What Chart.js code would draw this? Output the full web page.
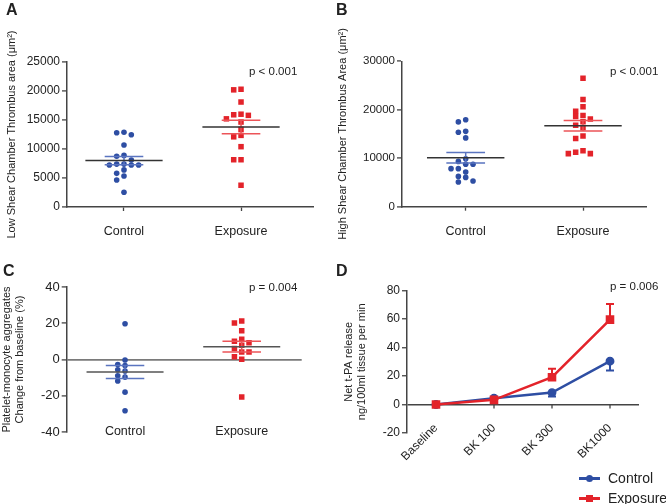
<!DOCTYPE html>
<html>
<head>
<meta charset="utf-8">
<script src="https://cdn.jsdelivr.net/npm/chart.js@4.4.1/dist/chart.umd.min.js"></script>
<style>
body { margin: 0; background: #fff; font-family: "Liberation Sans", Arial, sans-serif; color: #222; }
#wrap { position: relative; width: 666px; height: 504px; overflow: hidden; }
canvas { position: absolute; }
.lab { position: absolute; font-weight: bold; font-size: 16px; line-height: 1; }
.pv { position: absolute; font-size: 11.5px; line-height: 1; white-space: nowrap; }
.leg { position: absolute; left: 579px; font-size: 14px; line-height: 1; white-space: nowrap; }
.leg .ln { position: absolute; left: 0; top: 6px; width: 21px; height: 2.5px; }
.leg .mk { position: absolute; left: 7px; top: 4px; width: 7px; height: 7px; }
.leg .tx { position: absolute; left: 29px; top: 0; }
</style>
</head>
<body>
<div id="wrap">
  <canvas id="cA" width="333" height="252" style="left:0;top:0"></canvas>
  <canvas id="cB" width="333" height="252" style="left:333px;top:0"></canvas>
  <canvas id="cC" width="333" height="252" style="left:0;top:252px"></canvas>
  <canvas id="cD" width="333" height="252" style="left:333px;top:252px"></canvas>
  <div class="lab" style="left:6px;top:2px">A</div>
  <div class="lab" style="left:336px;top:2px">B</div>
  <div class="lab" style="left:3px;top:263px">C</div>
  <div class="lab" style="left:336px;top:263px">D</div>
  <div class="pv" style="left:249px;top:66px">p &lt; 0.001</div>
  <div class="pv" style="left:610px;top:66px">p &lt; 0.001</div>
  <div class="pv" style="left:249px;top:282px">p = 0.004</div>
  <div class="pv" style="left:610px;top:281px">p = 0.006</div>
  <div class="leg" style="top:471px"><span class="ln" style="background:#2e4ea3"></span><span class="mk" style="background:#2e4ea3;border-radius:50%"></span><span class="tx">Control</span></div>
  <div class="leg" style="top:491px"><span class="ln" style="background:#e3232a"></span><span class="mk" style="background:#e3232a"></span><span class="tx">Exposure</span></div>
</div>
<script>
// groups
var groups = ["Control", "Exposure"];

// A: low shear thrombus area (um2)
var ctrlA = [12900, 12800, 12450, 10700, 8900, 8750, 8100, 7400, 7400, 7250, 7250, 7250, 6400, 5800, 5350, 4650, 2550];
var expoA = [20300, 20200, 18100, 16000, 15900, 15800, 15200, 14650, 13400, 12350, 12100, 10400, 8150, 8150, 3750];
var meanA = [8000, 13800];
var semA = [700, 1150];

// B: high shear thrombus area (um2)
var ctrlB = [17950, 17500, 15550, 15350, 14200, 9900, 9350, 8750, 8750, 7850, 7850, 7150, 6250, 6050, 5300, 5100];
var expoB = [26500, 22100, 20600, 19700, 18800, 18600, 18100, 17550, 16800, 16300, 14600, 14050, 11550, 11250, 10950, 10950];
var meanB = [10100, 16700];
var semB = [1100, 1100];

// C: platelet-monocyte aggregates, change from baseline (%)
var ctrlC = [19.7, -0.3, -2.8, -3.3, -5.7, -6.4, -9.0, -9.7, -11.9, -18, -28.3];
var expoC = [21.3, 20.1, 15.8, 11.2, 10.1, 9.2, 7.9, 6.1, 4.2, 4.2, 1.5, 0.2, -20.7];
var meanC = [-6.9, 7.1];
var semC = [3.6, 3.0];

// D: net t-PA release
var stepsD = ["Baseline", "BK 100", "BK 300", "BK1000"];
var ctrlD = [0, 4.5, 8.4, 30.5];
var ctrlDsem = [0, 0.8, 2.8, 6.6];
var expoD = [0, 3.3, 19.2, 59.7];
var expoDsem = [0, 0.8, 6, 11];

var BLUE = "#2e4ea3", RED = "#e3232a", BLUE2 = "#5a74c0", RED2 = "#ec5458";
var AXIS = "#444";

Chart.defaults.font.family = '"Liberation Sans", Arial, sans-serif';
Chart.defaults.color = "#222";
Chart.defaults.animation = false;

// simple beeswarm: spread points sideways when they would overlap
function swarm(values, center, step, thr) {
  var placed = [], xs = [];
  var order = values.map(function (v, i) { return i; }).sort(function (a, b) { return values[b] - values[a]; });
  order.forEach(function (i) {
    for (var k = 0; ; k++) {
      var c = k === 0 ? 0 : (k % 2 ? -Math.ceil(k / 2) : k / 2);
      var hit = placed.some(function (p) { return p.c === c && Math.abs(p.v - values[i]) < thr; });
      if (!hit) { placed.push({ c: c, v: values[i] }); xs[i] = center + c * step; break; }
    }
  });
  return values.map(function (v, i) { return { x: xs[i], y: v }; });
}

Chart.register({
  id: "meanSem",
  afterDatasetsDraw: function (chart, args, o) {
    if (!o.mean) return;
    var ctx = chart.ctx, x = chart.scales.x, y = chart.scales.y;
    ctx.save();
    ctx.lineWidth = 1.5;
    o.mean.forEach(function (m, i) {
      var c = i + 1;
      var lo = y.getPixelForValue(m - o.sem[i]), hi = y.getPixelForValue(m + o.sem[i]);
      var l = x.getPixelForValue(c - o.semHalf), r = x.getPixelForValue(c + o.semHalf), cx = x.getPixelForValue(c);
      ctx.strokeStyle = o.semColors[i];
      ctx.beginPath();
      ctx.moveTo(l, lo); ctx.lineTo(r, lo);
      ctx.moveTo(l, hi); ctx.lineTo(r, hi);
      ctx.moveTo(cx, lo); ctx.lineTo(cx, hi);
      ctx.stroke();
      var my = y.getPixelForValue(m);
      ctx.strokeStyle = o.meanColor;
      ctx.beginPath();
      ctx.moveTo(x.getPixelForValue(c - o.meanHalf), my);
      ctx.lineTo(x.getPixelForValue(c + o.meanHalf), my);
      ctx.stroke();
    });
    ctx.restore();
  }
});

Chart.register({
  id: "errBars",
  beforeDatasetsDraw: function (chart, args, o) {
    if (!o.sets) return;
    var ctx = chart.ctx, x = chart.scales.x, y = chart.scales.y;
    ctx.save();
    // tick marks under the zero line
    var y0 = y.getPixelForValue(0);
    ctx.strokeStyle = AXIS; ctx.lineWidth = 1.3;
    ctx.beginPath();
    x.ticks.forEach(function (t, i) {
      var px = x.getPixelForTick(i);
      ctx.moveTo(px, y0); ctx.lineTo(px, y0 + 4);
    });
    ctx.stroke();
    o.sets.forEach(function (s) {
      ctx.strokeStyle = s.color; ctx.lineWidth = 2;
      s.values.forEach(function (v, i) {
        if (!s.sem[i]) return;
        var px = x.getPixelForValue(i), p1 = y.getPixelForValue(v), p2 = y.getPixelForValue(v + s.dir * s.sem[i]);
        ctx.beginPath();
        ctx.moveTo(px, p1); ctx.lineTo(px, p2);
        ctx.moveTo(px - 4, p2); ctx.lineTo(px + 4, p2);
        ctx.stroke();
      });
    });
    ctx.restore();
  }
});

function plain(v) { return String(v); }

function dotPanel(id, p) {
  var thr = (p.max - p.min) * 4.9 / 145;
  return new Chart(document.getElementById(id), {
    type: "scatter",
    data: {
      datasets: [
        { data: swarm(p.ctrl, 1, 0.0625, thr), pointStyle: "circle", pointRadius: 2.8, pointHoverRadius: 2.8,
          backgroundColor: BLUE, borderColor: BLUE, borderWidth: 0 },
        { data: swarm(p.expo, 2, 0.0625, thr), pointStyle: "rect", pointRadius: 3.9, pointHoverRadius: 3.9,
          backgroundColor: RED, borderColor: RED, borderWidth: 0 }
      ]
    },
    options: {
      responsive: false,
      layout: { padding: { left: 0, top: p.top, right: p.right, bottom: 0 } },
      plugins: {
        legend: { display: false }, tooltip: { enabled: false },
        meanSem: { mean: p.mean, sem: p.sem, semColors: [BLUE2, RED2], meanColor: p.meanColor,
          meanHalf: 0.33, semHalf: 0.165 }
      },
      scales: {
        x: {
          type: "linear", min: p.xmin, max: p.xmax,
          afterBuildTicks: function (s) { s.ticks = [{ value: 1 }, { value: 2 }]; },
          afterFit: function (s) { s.height = p.xh; },
          ticks: { callback: function (v) { return groups[v - 1]; }, font: { size: 12.5 }, padding: p.xpad,
            mirror: !!p.xmirror, color: "#222" },
          grid: { drawOnChartArea: false, drawTicks: p.xticks, tickLength: 4, tickColor: AXIS, tickWidth: 1.3 },
          border: { display: p.xborder, color: AXIS, width: 1.5 }
        },
        y: {
          min: p.min, max: p.max,
          afterFit: function (s) { s.width = p.yw; },
          ticks: { stepSize: p.step, callback: plain, font: { size: p.tickFont }, padding: 2, color: "#222" },
          grid: {
            drawOnChartArea: !!p.zeroLine,
            color: function (c) { return p.zeroLine && c.tick && c.tick.value === 0 ? p.zeroLine : "rgba(0,0,0,0)"; },
            lineWidth: 1.8,
            tickLength: 5, tickColor: AXIS, tickWidth: 1.3
          },
          border: { color: AXIS, width: 1.5 },
          title: { display: true, text: p.title, font: { size: 11 }, padding: { top: p.tpad, bottom: 0 }, color: "#222" }
        }
      }
    }
  });
}

dotPanel("cA", { ctrl: ctrlA, expo: expoA, mean: meanA, sem: semA, min: 0, max: 25000, step: 5000,
  top: 62, right: 20, yw: 67, xh: 45, xmin: 0.513, xmax: 2.615, xpad: 13, xticks: true, xborder: true,
  tickFont: 12, meanColor: "#333", title: "Low Shear Chamber Thrombus area (\u03bcm\u00b2)", tpad: 5 });

dotPanel("cB", { ctrl: ctrlB, expo: expoB, mean: meanB, sem: semB, min: 0, max: 30000, step: 10000,
  top: 61.3, right: 20, yw: 69, xh: 45.3, xmin: 0.457, xmax: 2.537, xpad: 13, xticks: true, xborder: true,
  tickFont: 11.5, meanColor: "#333", title: "High Shear Chamber Thrombus Area (\u03bcm\u00b2)", tpad: 3 });

dotPanel("cC", { ctrl: ctrlC, expo: expoC, mean: meanC, sem: semC, min: -40, max: 40, step: 20,
  top: 35, right: 31.3, yw: 66.7, xh: 72, xmin: 0.5, xmax: 2.514, xpad: -7.5, xmirror: true, xticks: false, xborder: false,
  tickFont: 13, meanColor: "#555", zeroLine: "#7a7a7a",
  title: ["Platelet-monocyte aggregates", "Change from baseline (%)"], tpad: 0 });

new Chart(document.getElementById("cD"), {
  type: "line",
  data: {
    labels: stepsD,
    datasets: [
      { label: "Exposure", data: expoD, borderColor: RED, backgroundColor: RED, borderWidth: 2.5,
        pointStyle: "rect", pointRadius: 4.3, pointHoverRadius: 4.3, tension: 0 },
      { label: "Control", data: ctrlD, borderColor: BLUE, backgroundColor: BLUE, borderWidth: 2.5,
        pointStyle: "circle", pointRadius: 3.2, pointHoverRadius: 3.2, tension: 0 }
    ]
  },
  options: {
    responsive: false,
    layout: { padding: { left: 0, top: 38.7, right: 27, bottom: 71 } },
    plugins: {
      legend: { display: false }, tooltip: { enabled: false },
      errBars: { sets: [
        { values: ctrlD, sem: ctrlDsem, dir: -1, color: BLUE },
        { values: expoD, sem: expoDsem, dir: 1, color: RED }
      ] }
    },
    scales: {
      x: {
        position: { y: -20 },
        offset: true,
        ticks: { minRotation: 45, maxRotation: 45, font: { size: 12 }, padding: -12, color: "#222" },
        grid: { display: false, drawTicks: false },
        border: { display: false }
      },
      y: {
        min: -20, max: 80,
        afterFit: function (s) { s.width = 74; },
        ticks: { stepSize: 20, font: { size: 12 }, padding: 2, color: "#222" },
        grid: {
          color: function (c) { return c.tick && c.tick.value === 0 ? AXIS : "rgba(0,0,0,0)"; },
          lineWidth: 1.5, tickLength: 5, tickColor: AXIS, tickWidth: 1.3
        },
        border: { color: AXIS, width: 1.5 },
        title: { display: true, text: ["Net t-PA release", "ng/100ml tissue per min"], font: { size: 11 },
          padding: { top: 9, bottom: 0 }, color: "#222" }
      }
    }
  }
});
</script>
</body>
</html>
